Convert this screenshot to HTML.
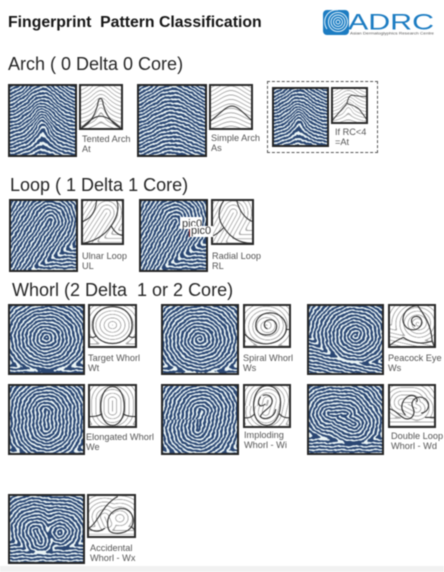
<!DOCTYPE html>
<html lang="en">
<head>
<meta charset="utf-8">
<title>Fingerprint Pattern Classification</title>
<style>
html,body{margin:0;padding:0;background:#fff}
#page{position:relative;width:444px;height:572px;overflow:hidden;background:#fff;font-family:"Liberation Sans",sans-serif;filter:blur(.4px)}
#page>div,#page>canvas,#page>svg{position:absolute}
.title{left:8px;top:14px;font-size:15.8px;font-weight:bold;color:#161616;white-space:pre;line-height:17px}
.head{font-size:18px;color:#262626;line-height:21px;white-space:pre}
.lab{font-size:9.2px;line-height:10.4px;color:#555;white-space:pre}
.band{left:0;top:566px;width:444px;height:6px;background:#f1f1f1}
.dash{left:267px;top:81px;width:109px;height:70px;border:1px dashed #555}
.pic{background:#fff;font-size:11px;line-height:11px;color:#333;white-space:pre}
</style>
</head>
<body>
<div id="page">
<div class="title">Fingerprint  Pattern Classification</div>

<svg style="left:323px;top:9px" width="112" height="28" viewBox="0 0 112 28">
<rect x="0" y="1" width="26" height="25" rx="4" fill="#1c7cc2"/>
<g fill="none" stroke="#dff0fa" stroke-width="1">
<circle cx="15" cy="13" r="2"/><circle cx="15" cy="13" r="4.5"/><circle cx="15" cy="13" r="7"/><circle cx="15" cy="13" r="9.5"/><path d="M4 20A12 12 0 0 1 15 1"/>
</g>
<text x="25" y="20.5" font-family="Liberation Sans" font-size="22" fill="#1c7cc2" textLength="86" lengthAdjust="spacingAndGlyphs">ADRC</text>
<text x="27" y="25.5" font-family="Liberation Sans" font-size="3.6" fill="#555" textLength="84" lengthAdjust="spacingAndGlyphs">Asian Dermatoglyphics Research Centre</text>
</svg>

<div class="head" style="left:8px;top:54px">Arch ( 0 Delta 0 Core)</div>
<canvas class="fp" data-p="tent" style="left:8px;top:84px;width:69px;height:73px"></canvas>
<canvas class="sc" data-p="tent" data-k="tent" style="left:79px;top:84px;width:44px;height:46px"></canvas>
<div class="lab" style="left:82px;top:134px">Tented Arch
At</div>
<canvas class="fp" data-p="arch" style="left:137px;top:84px;width:70px;height:73px"></canvas>
<canvas class="sc" data-p="arch" data-k="arch" style="left:209px;top:84px;width:44px;height:46px"></canvas>
<div class="lab" style="left:211px;top:133px">Simple Arch
As</div>
<div class="dash"></div>
<canvas class="fp" data-p="rc" style="left:272px;top:87px;width:57px;height:60px"></canvas>
<canvas class="sc" data-p="rc" data-k="rc" style="left:331px;top:87px;width:37px;height:37px"></canvas>
<div class="lab" style="left:335px;top:127px">If RC&lt;4
=At</div>

<div class="head" style="left:10px;top:175px">Loop ( 1 Delta 1 Core)</div>
<canvas class="fp" data-p="ul" style="left:9px;top:199px;width:69px;height:73px"></canvas>
<canvas class="sc" data-p="ul" data-k="ul" style="left:81px;top:199px;width:43px;height:46px"></canvas>
<div class="lab" style="left:82px;top:251px">Ulnar Loop
UL</div>
<canvas class="fp" data-p="rl" style="left:139px;top:199px;width:69px;height:73px"></canvas>
<canvas class="sc" data-p="rl" data-k="rl" style="left:211px;top:199px;width:43px;height:46px"></canvas>
<div class="lab" style="left:212px;top:251px">Radial Loop
RL</div>
<div class="pic" style="left:180px;top:217px;width:22px;height:12px;padding:2px 0 0 2px;box-sizing:border-box">pic0</div>
<div style="left:189px;top:229px;width:1px;height:8px;background:#7a1f1f"></div>
<div class="pic" style="left:190px;top:226px;width:23px;height:11px;padding-left:1px;box-sizing:border-box">pic0</div>

<div class="head" style="left:12px;top:280px">Whorl (2 Delta  1 or 2 Core)</div>
<canvas class="fp" data-p="target" style="left:8px;top:304px;width:77px;height:71px"></canvas>
<canvas class="sc" data-p="target" data-k="target" style="left:88px;top:304px;width:49px;height:44px"></canvas>
<div class="lab" style="left:88px;top:353px">Target Whorl
Wt</div>
<canvas class="fp" data-p="spiral" style="left:161px;top:304px;width:78px;height:71px"></canvas>
<canvas class="sc" data-p="spiral" data-k="spiral" style="left:243px;top:304px;width:48px;height:44px"></canvas>
<div class="lab" style="left:243px;top:353px">Spiral Whorl
Ws</div>
<canvas class="fp" data-p="peacock" style="left:307px;top:304px;width:77px;height:71px"></canvas>
<canvas class="sc" data-p="peacock" data-k="peacock" style="left:388px;top:304px;width:48px;height:44px"></canvas>
<div class="lab" style="left:388px;top:353px">Peacock Eye
Ws</div>

<canvas class="fp" data-p="elong" style="left:8px;top:384px;width:77px;height:71px"></canvas>
<canvas class="sc" data-p="elong" data-k="elong" style="left:88px;top:384px;width:49px;height:44px"></canvas>
<div class="lab" style="left:86px;top:432px">Elongated Whorl
We</div>
<canvas class="fp" data-p="implode" style="left:161px;top:384px;width:78px;height:71px"></canvas>
<canvas class="sc" data-p="implode" data-k="implode" style="left:243px;top:384px;width:48px;height:44px"></canvas>
<div class="lab" style="left:244px;top:430px">Imploding
Whorl - Wi</div>
<canvas class="fp" data-p="double" style="left:307px;top:384px;width:77px;height:71px"></canvas>
<canvas class="sc" data-p="double" data-k="double" style="left:388px;top:384px;width:48px;height:44px"></canvas>
<div class="lab" style="left:391px;top:431px">Double Loop
Whorl - Wd</div>

<canvas class="fp" data-p="accid" style="left:8px;top:494px;width:77px;height:70px"></canvas>
<canvas class="sc" data-p="accid" data-k="accid" style="left:87px;top:494px;width:49px;height:44px"></canvas>
<div class="lab" style="left:90px;top:543px">Accidental
Whorl - Wx</div>
<div class="band"></div>
</div>

<script>
function seg(u,v,a,b,c,d){var x=c-a,y=d-b,t=((u-a)*x+(v-b)*y)/(x*x+y*y);t=Math.max(0,Math.min(1,t));return Math.hypot(u-a-t*x,v-b-t*y);}
function smin(a,b,k){var h=Math.max(0,Math.min(1,.5+.5*(b-a)/k));return b*(1-h)+a*h-k*h*(1-h);}
function spir(u,v,x,y){return Math.atan2(v-y,u-x)/(2*Math.PI);}
function bell(x,w){return Math.exp(-(x*x)/(w*w));}
var fields={
 tent:function(u,v){return v+.3*bell(u-.5,.32)*(1-.6*v)+.13*bell(u-.5,.12)*bell(v-.55,.25);},
 arch:function(u,v){return v+.3*bell(u-.5,.42)*(1-.4*v);},
 rc:function(u,v){return v+.26*bell(u-.47,.32)*(1-.6*v)+.12*bell(u-.47,.12)*bell(v-.55,.22);},
 ul:function(u,v){return smin(seg(u,v,.6,.3,.02,1.15),(1.08-v)+.03,.07);},
 rl:function(u,v){return smin(seg(u,v,.52,.3,.05,1.1),(1.08-v)*.95+.05,.07);},
 target:function(u,v){return smin(Math.hypot(u-.5,(v-.48)*1.04),(1.1-v)+.32,.06);},
 spiral:function(u,v,p){return smin(Math.hypot(u-.5,v-.5)+p*spir(u,v,.5,.5),(1.1-v)+.36,.06);},
 peacock:function(u,v,p){return smin(Math.hypot(u-.63,v-.44)+p*spir(u,v,.63,.44),(1.06-v)+.08+.25*(u-.3),.05);},
 elong:function(u,v){return smin(seg(u,v,.5,.38,.5,.62),(1.1-v)+.34,.06);},
 implode:function(u,v,p){return smin(seg(u,v,.52,.38,.47,.64)+.5*p*spir(u,v,.5,.5),(1.1-v)+.34,.06);},
 double:function(u,v,p){return smin(Math.min(seg(u,v,.3,.42,.5,.42),seg(u,v,.42,.46,.6,.56)),(1.02-v)+.1,.06);},
 accid:function(u,v){var a=seg(u,v,.36,.52,.42,.68),b=Math.hypot(u-.67,v-.55);return smin(smin(a,b,.04),(.98-v)+.02,.05);}
};
var marks={
 tent:["M5 96C25 88 38 65 43 42C45 30 48 32 48 32C52 30 54 36 55 44C60 65 75 88 95 96","M5 96C20 82 35 70 48 70C62 70 80 82 95 96"],
 arch:["M4 80C25 65 38 48 52 48C66 48 80 65 98 80"],
 rc:["M5 89C20 70 35 55 43 44C47 28 50 22 58 22C70 24 82 26 95 26","M43 44C60 50 75 55 80 65C88 75 92 82 97 89"],
 ul:["M0 50C15 46 33 35 36 5","M83 3C92 25 78 48 70 58C55 80 30 92 6 96","M70 58C78 72 86 78 100 80"],
 rl:["M0 82C12 78 22 70 30 62C12 40 18 20 30 3","M30 62C48 88 70 96 94 96","M60 3C65 25 80 45 100 50"],
 target:["M50 6C78 6 90 28 90 48C90 74 70 90 50 90C28 90 10 74 10 48C10 26 24 6 50 6","M0 74C8 76 12 78 17 72","M83 72C88 78 92 76 100 74"],
 spiral:["M50 56C42 52 42 38 54 36C66 34 74 46 68 60C60 74 36 74 28 58C22 38 36 20 56 20C78 20 92 38 90 58C86 84 54 98 26 86C14 80 6 72 2 66","M90 58L100 58"],
 peacock:["M56 50C46 44 46 28 60 28C74 30 74 52 58 58C40 62 28 46 32 28C36 12 50 4 62 4C72 20 90 44 92 84L96 96","M4 94C14 84 24 80 32 76C50 90 72 92 92 84"],
 elong:["M50 6C66 6 74 28 74 52C74 76 64 94 50 94C36 94 26 76 26 52C26 28 34 6 50 6","M0 74C10 74 20 74 28 68","M72 68C80 74 90 74 100 74"],
 implode:["M50 4C72 4 80 28 78 50C76 76 64 94 50 94C32 94 22 76 22 50C22 26 32 4 50 4","M42 26C56 20 66 36 58 48C50 60 40 62 36 74C44 84 66 76 68 58","M36 30C28 44 34 56 46 46","M0 76C8 78 16 78 24 68","M76 68C82 76 92 78 100 76"],
 double:["M0 56C16 58 20 70 34 78C50 84 58 68 52 54C44 38 62 22 78 34C90 46 84 64 70 66","M36 70C22 54 30 30 48 26C60 26 62 36 60 40","M78 76C86 76 92 76 100 76"],
 accid:["M4 78C26 60 30 26 62 6","M4 78C14 86 24 88 36 78","M42 66C42 42 62 30 78 34C92 40 98 56 92 72C84 90 56 94 46 84C42 78 42 72 42 66","M92 76L100 84"]
};
function ss(a,b,x){var t=Math.max(0,Math.min(1,(x-a)/(b-a)));return t*t*(3-2*t);}
function paint(c){
 var w=parseInt(c.style.width),h=parseInt(c.style.height),sc=c.className==="sc",mul=sc?2:3;
 c.width=w*mul;c.height=h*mul;
 var W=c.width,H=c.height,ctx=c.getContext("2d"),img=ctx.createImageData(W,H),f=fields[c.dataset.p],p=sc?.085:(w>60?.048:.056);
 for(var j=0;j<H;j++)for(var i=0;i<W;i++){
  var u=(i+.5)/W,v=(j+.5)/H,uu=u+(sc?0:.006*Math.sin(v*31+u*9)+.003*Math.sin(v*67-u*41)),vv=v+(sc?0:.006*Math.sin(u*27-v*11)+.003*Math.sin(u*59+v*47));
  var d=f(uu,vv,p),val=.5+.5*Math.cos(2*Math.PI*d/p),o=(j*W+i)*4,r,g,b;
  if(sc){var s=ss(.8,.96,val);r=g=b=255-s*85;}
  else{
   var n=.2*Math.sin(u*71+v*43)*Math.sin(v*59-u*37)+.08*Math.sin(u*131-v*97);
   var s2=ss(.5,.74,val+n);
   r=42+s2*193;g=70+s2*175;b=114+s2*133;
  }
  img.data[o]=r;img.data[o+1]=g;img.data[o+2]=b;img.data[o+3]=255;
 }
 ctx.putImageData(img,0,0);
 if(sc&&c.dataset.k){
  ctx.strokeStyle="#333";
  marks[c.dataset.k].forEach(function(m){
   ctx.save();ctx.scale(W/100,H/100);
   var path=new Path2D(m);ctx.lineWidth=2.4;ctx.lineJoin="round";ctx.lineCap="round";ctx.stroke(path);ctx.restore();
  });
 }
 var b2=2*mul;ctx.strokeStyle=sc?"#2a2a2a":"#262626";ctx.lineWidth=b2;ctx.strokeRect(b2/2,b2/2,W-b2,H-b2);
}
Array.prototype.forEach.call(document.querySelectorAll("canvas"),paint);
</script>
</body>
</html>
